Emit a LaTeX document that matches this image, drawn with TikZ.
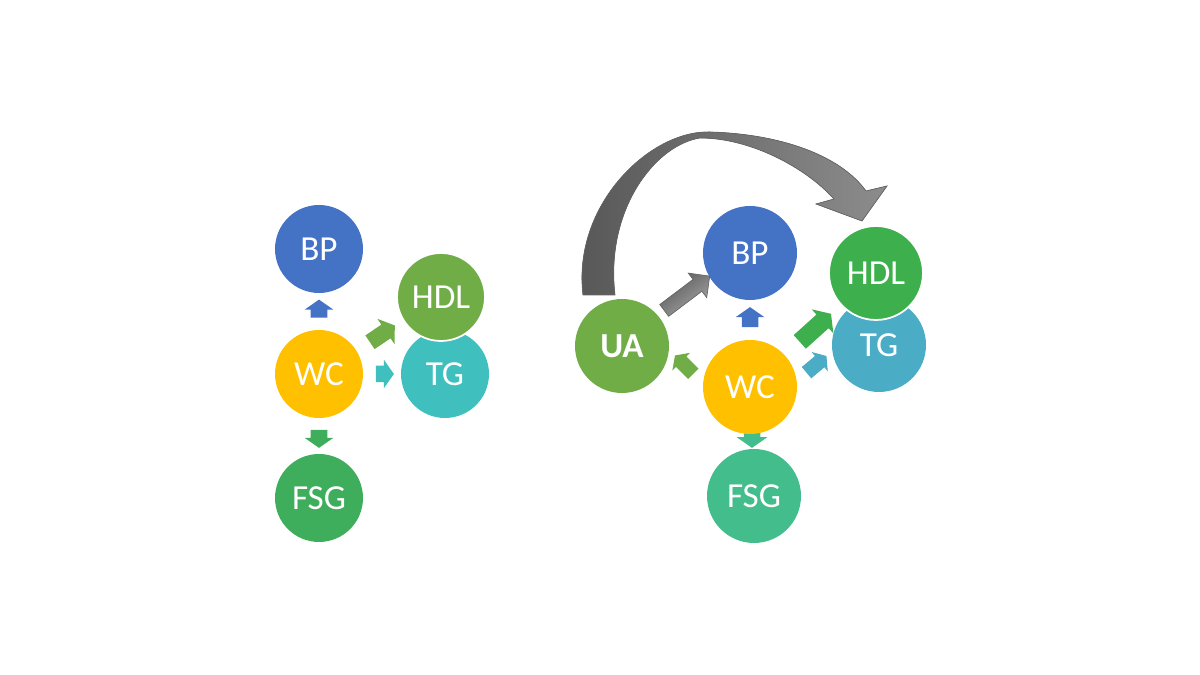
\documentclass[tikz,border=0pt]{standalone}
\usepackage{fontspec}
\setmainfont{Carlito}
\usepackage{tikz}
\usetikzlibrary{calc,shapes.arrows,backgrounds}
\definecolor{bpblue}{HTML}{4472C4}
\definecolor{wcgold}{HTML}{FFC000}
\definecolor{leafgreen}{HTML}{70AD47}
\definecolor{fsggreen}{HTML}{3FAE5C}
\definecolor{hdlgreen}{HTML}{3DB04D}
\definecolor{mint}{HTML}{43BD8C}
\definecolor{tealleft}{HTML}{40BFBF}
\definecolor{tealright}{HTML}{4BACC6}

\begin{document}
\begin{tikzpicture}[x=0.02cm,y=0.02cm,
  ball/.style={circle,fill=#1,text=white,inner sep=0pt,minimum size=1.76cm,font=\fontsize{20}{20}\selectfont},
  bigball/.style={ball=#1,minimum size=1.88cm},
  blockarr/.style={single arrow,fill=#1,draw=none,inner xsep=0pt,inner ysep=4.5pt,
    minimum height=0.36cm,single arrow head extend=3.5pt,single arrow tip angle=110}]
  \useasboundingbox (0,0) rectangle (1200,675);

  % left panel
  \foreach \n/\x/\y/\c/\t in {bpL/319/426/bpblue/BP, wcL/319/301/wcgold/WC,
      fsgL/319/177/fsggreen/FSG, tgL/445/301/tealleft/TG, hdlL/441/378/leafgreen/HDL}
    \node[ball=\c] (\n) at (\x,\y) {\t};
  \draw[white,line width=1pt] (hdlL) circle (0.88cm);
  \node[blockarr=bpblue,rotate=90] (upL) at ($(wcL)!0.5!(bpL)$) {};
  \node[blockarr=fsggreen,rotate=-90] (downL) at ($(wcL)!0.5!(fsgL)$) {};
  \node[blockarr=tealleft] (rightL) at ($(wcL)!0.5!(tgL)$) {};
  \node[blockarr=leafgreen,rotate=34,minimum height=0.6cm,single arrow head extend=4pt] (diagL) at ($(wcL)!0.5!(hdlL)$) {};

  % right panel
  \foreach \n/\x/\y/\c/\t in {uaR/622/329/leafgreen/\textbf{UA}, bpR/750/422/bpblue/BP,
      wcR/750/288/wcgold/WC, fsgR/754/179/mint/FSG, tgR/879/330/tealright/TG, hdlR/876/402/hdlgreen/HDL}
    \node[bigball=\c] (\n) at (\x,\y) {\t};
  \draw[white,line width=1pt] (hdlR) circle (0.94cm);
  \node[blockarr=bpblue,rotate=90,minimum height=0.4cm] (upR) at ($(wcR)!0.5!(bpR)$) {};
  \node[blockarr=hdlgreen,rotate=42,minimum height=0.84cm,inner ysep=5pt,single arrow head extend=4pt] (hdlArr) at ($(wcR)!0.5!(hdlR)$) {};
  \node[blockarr=tealright,rotate=40,minimum height=0.52cm,inner ysep=4pt,single arrow head extend=3pt] (tgArr) at ($(wcR)!0.5!(tgR)$) {};
  \node[blockarr=leafgreen,rotate=135,minimum height=0.52cm,inner ysep=4pt,single arrow head extend=3pt] (uaArr) at ($(wcR)!0.5!(uaR)$) {};
  \begin{scope}[on background layer]
    \node[blockarr=mint,rotate=-90,minimum height=0.4cm,single arrow head extend=4pt] (fsgArr) at (752,240) {};
  \end{scope}
  \node[single arrow,draw=black!60,left color=black!65,right color=black!35,shading angle=37,
    rotate=37,inner xsep=0pt,inner ysep=4pt,minimum height=1.14cm,single arrow head extend=4.5pt] (greyArr) at ($(uaR)!0.5!(bpR)+(-2,4)$) {};

  % curved arrow UA -> HDL
  \fill[draw=black!60,line width=0.4pt,left color=black!66,right color=black!45]
    (583,380) .. controls (572,470) and (650,545) .. (710,543)
    .. controls (780,541) and (840,520) .. (866,484)
    -- (887,489) -- (862,454) -- (816,471) -- (834,476)
    .. controls (805,508) and (750,537) .. (700,537)
    .. controls (655,530) and (605,465) .. (615,380) -- cycle;
\end{tikzpicture}
\end{document}
